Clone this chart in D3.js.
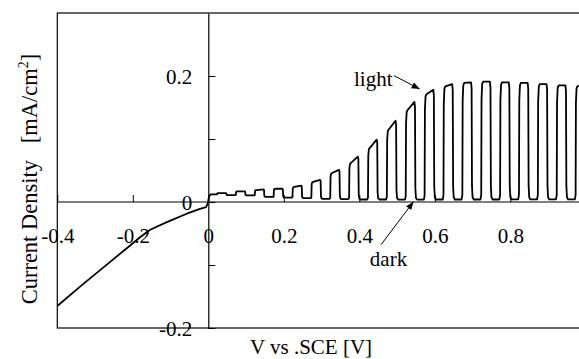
<!DOCTYPE html>
<html>
<head>
<meta charset="utf-8">
<script src="https://cdn.jsdelivr.net/npm/d3@7"></script>
<style>
  body { margin: 0; background: #fff; }
  text { font-family: "Liberation Serif", "Times New Roman", serif; fill: #000; }
</style>
</head>
<body>
<svg id="chart" width="579" height="359"></svg>
<script>
// dark-scan branch below 0 V  [V, mA/cm2]
const cathodicV = [-0.4, -0.331, -0.26, -0.207, -0.181, -0.154, -0.11, -0.057, -0.022, -0.006, -0.001, 0.0, 0.002, 0.006];
const cathodicJ = [-0.165, -0.130, -0.095, -0.069, -0.056, -0.044, -0.032, -0.0186, -0.011, -0.008, -0.0016, 0.002, 0.009, 0.012];

// chopped light scan
const lightOn = [0.023, 0.073, 0.123, 0.173, 0.223, 0.273, 0.323, 0.373, 0.423, 0.473,
                 0.523, 0.573, 0.623, 0.673, 0.723, 0.773, 0.823, 0.873, 0.923, 0.973];
const lightOff = [0.048, 0.098, 0.148, 0.198, 0.248, 0.298, 0.348, 0.398, 0.448, 0.498,
                  0.548, 0.598, 0.648, 0.698, 0.748, 0.798, 0.848, 0.898, 0.948, 0.998];
const lightStartJ = [0.014, 0.017, 0.019, 0.021, 0.024, 0.032, 0.046, 0.062, 0.086, 0.115,
                     0.146, 0.171, 0.1835, 0.189, 0.191, 0.190, 0.189, 0.187, 0.185, 0.184];
const lightEndJ = [0.014, 0.017, 0.020, 0.021, 0.026, 0.035, 0.051, 0.072, 0.099, 0.129,
                   0.159, 0.178, 0.187, 0.190, 0.191, 0.190, 0.189, 0.187, 0.185, 0.184];
const darkJ = [0.011, 0.0105, 0.008, 0.007, 0.006, 0.005, 0.0045, 0.004, 0.004, 0.0037,
               0.0037, 0.004, 0.004, 0.004, 0.004, 0.0042, 0.0042, 0.0042, 0.0042, 0.0042];
const darkBeforeJ = 0.012;

const xTicks = [-0.4, -0.2, 0, 0.2, 0.4, 0.6, 0.8];
const xTickLabels = ['-0.4', '-0.2', '0', '0.2', '0.4', '0.6', '0.8'];
const yTicks = [-0.2, -0.1, 0, 0.1, 0.2];
const yTickLabels = ['-0.2', '', '0', '', '0.2'];

const width = 579, height = 359;
const svg = d3.select('#chart');

const x = d3.scaleLinear().domain([-0.4, 1.0]).range([57.3, 585.8]);
const y = d3.scaleLinear().domain([-0.2, 0.3]).range([328, 13]);

const fontSize = 21;

svg.append('defs').append('clipPath').attr('id', 'plotClip')
	.append('rect')
	.attr('x', x(-0.4)).attr('y', y(0.3))
	.attr('width', x(1.0) - x(-0.4)).attr('height', y(-0.2) - y(0.3));

const marker = svg.select('defs').append('marker')
	.attr('id', 'arrow')
	.attr('viewBox', '0 -5 10 10')
	.attr('refX', 10)
	.attr('refY', 0)
	.attr('markerUnits', 'userSpaceOnUse')
	.attr('markerWidth', 9)
	.attr('markerHeight', 8)
	.attr('orient', 'auto');
marker.append('path').attr('d', 'M0,-4L10,0L0,4Z').attr('fill', '#000');

// frame
svg.append('rect')
	.attr('x', x(-0.4)).attr('y', y(0.3))
	.attr('width', x(1.0) - x(-0.4)).attr('height', y(-0.2) - y(0.3))
	.attr('fill', 'none').attr('stroke', '#000').attr('stroke-width', 1.2);

// axes through the origin
const yAxis = d3.axisLeft(y)
	.tickValues(yTicks)
	.tickFormat((d, i) => yTickLabels[i])
	.tickSizeInner(-7).tickSizeOuter(0).tickPadding(16);
const gy = svg.append('g').attr('transform', `translate(${x(0)},0)`).call(yAxis);

const xAxis = d3.axisBottom(x)
	.tickValues(xTicks)
	.tickFormat((d, i) => xTickLabels[i])
	.tickSizeInner(-7).tickSizeOuter(0).tickPadding(26);
const gx = svg.append('g').attr('transform', `translate(0,${y(0)})`).call(xAxis);

[gx, gy].forEach(g => {
	g.select('.domain').attr('stroke', '#000').attr('stroke-width', 1.2);
	g.selectAll('.tick line').attr('stroke', '#000').attr('stroke-width', 1);
	g.selectAll('.tick text')
		.style('font-family', '"Liberation Serif", "Times New Roman", serif')
		.style('font-size', fontSize + 'px')
		.attr('fill', '#000');
});
gy.selectAll('.tick text').attr('dy', '0.38em');
gx.select('.domain').attr('d', `M${x(-0.4)},0H${x(1.0)}`);

// build the measured trace
const pts = cathodicV.map((v, i) => [v, cathodicJ[i]]);
let prevDark = darkBeforeJ;
pts.push([0.012, darkBeforeJ]);
lightOn.forEach((on, k) => {
	const off = lightOff[k], ls = lightStartJ[k], le = lightEndJ[k], dk = darkJ[k];
	pts.push([on - 0.002, prevDark]);
	pts.push([on, prevDark + (ls - prevDark) * 0.04]);
	pts.push([on + 0.0008, prevDark + (ls - prevDark) * 0.85]);
	pts.push([on + 0.0025, ls - (ls - prevDark) * 0.02]);
	pts.push([on + 0.005, ls]);
	pts.push([off - 0.002, le]);
	pts.push([off - 0.0005, le - (le - dk) * 0.05]);
	pts.push([off + 0.0005, dk + (le - dk) * 0.12]);
	pts.push([off + 0.002, dk + (le - dk) * 0.02]);
	pts.push([off + 0.005, dk]);
	prevDark = dk;
});

const line = d3.line().x(d => x(d[0])).y(d => y(d[1])).curve(d3.curveLinear);

svg.append('path')
	.datum(pts)
	.attr('clip-path', 'url(#plotClip)')
	.attr('d', line)
	.attr('fill', 'none')
	.attr('stroke', '#000')
	.attr('stroke-width', 1.8)
	.attr('stroke-linejoin', 'round');

// annotations
svg.append('line')
	.attr('x1', x(0.492)).attr('y1', y(0.2005))
	.attr('x2', x(0.56)).attr('y2', y(0.1794))
	.attr('stroke', '#000').attr('stroke-width', 1)
	.attr('marker-end', 'url(#arrow)');
svg.append('text')
	.attr('x', x(0.386)).attr('y', y(0.1845))
	.style('font-size', fontSize + 'px')
	.text('light');

svg.append('line')
	.attr('x1', x(0.4575)).attr('y1', y(-0.0678))
	.attr('x2', x(0.5436)).attr('y2', y(0.0005))
	.attr('stroke', '#000').attr('stroke-width', 1)
	.attr('marker-end', 'url(#arrow)');
svg.append('text')
	.attr('x', x(0.428)).attr('y', y(-0.101))
	.style('font-size', fontSize + 'px')
	.text('dark');

// axis titles
svg.append('text')
	.attr('x', 311).attr('y', 354)
	.attr('text-anchor', 'middle')
	.style('font-size', fontSize + 'px')
	.text('V vs .SCE [V]');

const yt = svg.append('text')
	.attr('transform', 'translate(37,179) rotate(-90)')
	.attr('text-anchor', 'middle')
	.style('font-size', '22.5px')
	.style('white-space', 'pre');
yt.append('tspan').text('Current Density   [mA/cm');
yt.append('tspan').attr('dy', -9).style('font-size', '14px').text('2');
yt.append('tspan').attr('dy', 9).text(']');
</script>
</body>
</html>
